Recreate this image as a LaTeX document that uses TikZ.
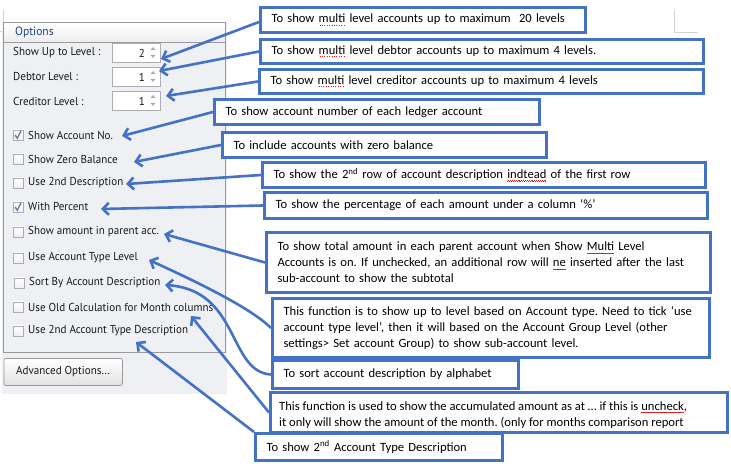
\documentclass[tikz,border=0pt]{standalone}
\usepackage{fontspec}
\setmainfont{Carlito}
\newfontfamily\uifont[FakeStretch=0.96]{PT Sans}
\usetikzlibrary{arrows.meta}
\frenchspacing
\definecolor{wblue}{HTML}{4472C4}
\definecolor{panelbg}{HTML}{EEF0F3}
\definecolor{panelbd}{HTML}{9A9A9A}
\definecolor{ctlbd}{HTML}{ABADB3}
\definecolor{hdrblue}{HTML}{1E3F8C}
\definecolor{chkcol}{HTML}{6E7FA0}
\definecolor{spell}{HTML}{E02020}
\newsavebox\sqbox
\newcommand\reddot[1]{\sbox\sqbox{#1}\rlap{\lower2.8bp\hbox to\wd\sqbox{\color{spell}\xleaders\hbox to 2.4bp{\hss\rule{0.8bp}{0.8bp}\hss}\hfill}}\usebox\sqbox}
\newcommand\redwave[1]{\sbox\sqbox{#1}\rlap{\lower3bp\hbox to\wd\sqbox{\color{spell}\xleaders\hbox{\rule[0bp]{0.9bp}{0.6bp}\rule[0.7bp]{0.9bp}{0.6bp}}\hfill}}\usebox\sqbox}
\newcommand\cbox[6]{%
  \pgfmathsetlengthmacro\cbw{(#4-#2)*1bp}%
  \pgfmathsetlengthmacro\cbh{(#5-#3)*1bp}%
  \pgfmathsetlengthmacro\cbt{(#4-#2)*1bp-22bp}%
  \node[callout, anchor=north west, minimum width=\cbw, minimum height=\cbh, text width=\cbt] (#1) at (#2,#3) {#6};}
\begin{document}
\begin{tikzpicture}[x=1bp,y=-1bp,
  callout/.style={draw=wblue, line width=3bp, fill=white, rectangle, inner xsep=11bp, inner ysep=0bp,
     align=left, font=\fontsize{12.6bp}{16bp}\selectfont, text=black},
  ctext/.style={font=\fontsize{12.6bp}{16bp}\selectfont, anchor=base west, inner sep=0pt},
  ptr/.style={draw=wblue, line width=2.6bp, -{Straight Barb[length=6bp,width=12bp]}},
  ui/.style={font=\uifont\fontsize{11.5bp}{13bp}\selectfont, text=black!90, inner sep=0bp},
  spin/.style={draw=ctlbd, fill=white, rectangle, minimum width=48bp, minimum height=19bp, anchor=north west, inner sep=0pt},
  chk/.style={draw=ctlbd, top color=white, bottom color=gray!12, rectangle, minimum size=10bp, inner sep=0pt}
]
\useasboundingbox (0,0) rectangle (731,467);
% page corner marks
\draw[gray!35, line width=0.8bp] (674,10) -- (674,32) -- (698,32);
\draw[gray!35, line width=0.8bp] (3,10) -- (3,31) -- (0,31);
% panel background
\fill[panelbg] (2,22) rectangle (227,394);
\shade[top color=white, bottom color=gray!14] (3.4,22.4) rectangle (224.6,42);
\node[draw=panelbd, line width=0.8bp, rectangle, minimum width=222bp, minimum height=330bp, anchor=north west, inner sep=0pt] (panel) at (3,22) {};
\draw[panelbd, line width=0.8bp] (3,42) -- (225,42);
\node[ui, anchor=west, text=hdrblue, font=\uifont\fontsize{12bp}{13bp}\selectfont] (opt) at (15,32) {Options};
% level rows
\node[ui, anchor=west] (lv1) at (13,53) {Show Up to Level :};
\node[ui, anchor=west] (lv2) at (13,77) {Debtor Level :};
\node[ui, anchor=west] (lv3) at (13,101) {Creditor Level :};
\node[spin] (sp1) at (112,43) {};
\node[spin] (sp2) at (112,67) {};
\node[spin] (sp3) at (112,91) {};
\node[ui, anchor=east] (v1) at (145,53) {2};
\node[ui, anchor=east] (v2) at (145,77) {1};
\node[ui, anchor=east] (v3) at (145,101) {1};
\foreach \yy in {43,67,91}{
  \fill[gray!65] (150.5,\yy+7) -- (155.5,\yy+7) -- (153,\yy+4) -- cycle;
  \fill[gray!65] (150.5,\yy+12) -- (155.5,\yy+12) -- (153,\yy+15) -- cycle;
}
% check boxes
\node[chk] (c1) at (18,135) {};
\node[chk] (c2) at (18,159) {};
\node[chk] (c3) at (18,183) {};
\node[chk] (c4) at (18,207) {};
\node[chk] (c5) at (18,232) {};
\node[chk] (c6) at (18,258) {};
\node[chk] (c7) at (19,283) {};
\node[chk] (c8) at (18,307) {};
\node[chk] (c9) at (18,331) {};
\draw[chkcol, line width=1.4bp] (15,135) -- (17.3,138.2) -- (21,131);
\draw[chkcol, line width=1.4bp] (15,207) -- (17.3,210.2) -- (21,203);
\node[ui, anchor=west] (l1) at (28,135) {Show Account No.};
\node[ui, anchor=west] (l2) at (28,159) {Show Zero Balance};
\node[ui, anchor=west] (l3) at (28,183) {Use 2nd Description};
\node[ui, anchor=west] (l4) at (28,207) {With Percent};
\node[ui, anchor=west] (l5) at (28,232) {Show amount in parent acc.};
\node[ui, anchor=west] (l6) at (28,258) {Use Account Type Level};
\node[ui, anchor=west] (l7) at (29,283) {Sort By Account Description};
\node[ui, anchor=west] (l8) at (28,307) {Use Old Calculation for Month columns};
\node[ui, anchor=west] (l9) at (28,331) {Use 2nd Account Type Description};
% button
\shade[top color=white, bottom color=gray!22, rounded corners=2bp] (3.5,358) rectangle (122,385);
\node[draw=panelbd, line width=0.8bp, rounded corners=2bp, rectangle, minimum width=118.5bp, minimum height=27bp, anchor=north west, inner sep=0pt] (btn) at (3.5,358) {};
\node[ui] (btnt) at (btn.center) {Advanced Options...};
% callouts
\cbox{b1}{259}{6}{584}{31}{To show \reddot{multi} level accounts up to maximum\ \ 20 levels}
\cbox{b2}{259}{38}{702}{62}{To show \reddot{multi} level debtor accounts up to maximum 4 levels.}
\cbox{b3}{258}{68}{702}{92}{To show \reddot{multi} level creditor accounts up to maximum 4 levels}
\cbox{b4}{213}{98}{538}{123}{To show account number of each ledger account}
\cbox{b5}{221}{131}{545}{156}{To include accounts with zero balance}
\cbox{b6}{261}{161}{704}{186}{To show the 2\textsuperscript{nd} row of account description \redwave{indtead} of the first row}
\cbox{b7}{263}{191}{706}{217}{To show the percentage of each amount under a column ‘\%’}
\cbox{b8}{265}{231}{709}{291}{To show total amount in each parent account when Show \redwave{Multi} Level\\Accounts is on. If unchecked, an additional row will \redwave{ne} inserted after the last\\sub-account to show the subtotal}
\cbox{b9}{271}{297}{708}{356}{This function is to show up to level based on Account type. Need to tick ‘use\\account type level’, then it will based on the Account Group Level (other\\settings> Set account Group) to show sub-account level.}
\cbox{b10}{271}{359}{517}{387}{To sort account description by alphabet}
\cbox{b11}{269}{391}{726}{431}{}
\begin{scope}
  \clip (270.5,392.5) rectangle (724.5,429);
  \node[ctext] (t11a) at (279,410) {This function is used to show the accumulated amount as at … if this is \redwave{uncheck},};
  \node[ctext] (t11b) at (279,426) {it only will show the amount of the month. (only for months comparison report};
\end{scope}
\cbox{b12}{254}{432}{501}{459}{To show 2\textsuperscript{nd} Account Type Description}
% tips
\coordinate (e1) at (161,59);
\coordinate (e2) at (159,71);
\coordinate (e3) at (166,96);
\coordinate (e4) at (122,136);
\coordinate (e5) at (134,162);
\coordinate (e6) at (126,184);
\coordinate (e7) at (101,209);
\coordinate (e8) at (164,234);
\coordinate (e9) at (149,260);
\coordinate (e10) at (165,285);
\coordinate (e11) at (191,316);
\coordinate (e12) at (136,342);
% connectors
\draw[ptr] ([yshift=-2bp]b1.west) -- (e1);
\draw[ptr] (b2.west) -- (e2);
\draw[ptr] (b3.west) -- (e3);
\draw[ptr] (b4.west) -- (e4);
\draw[ptr] (b5.west) -- (e5);
\draw[ptr] (b6.west) -- (e6);
\draw[ptr] (b7.west) -- (e7);
\draw[ptr] (b8.west) -- (e8);
\draw[ptr] (b9.west) .. controls (255,312) and (215,290) .. (e9);
\draw[ptr] (b10.west) .. controls (228,372) and (240,290) .. (e10);
\draw[ptr] (b11.west) -- (e11);
\draw[ptr] (b12.north west) -- (e12);
\end{tikzpicture}
\end{document}
